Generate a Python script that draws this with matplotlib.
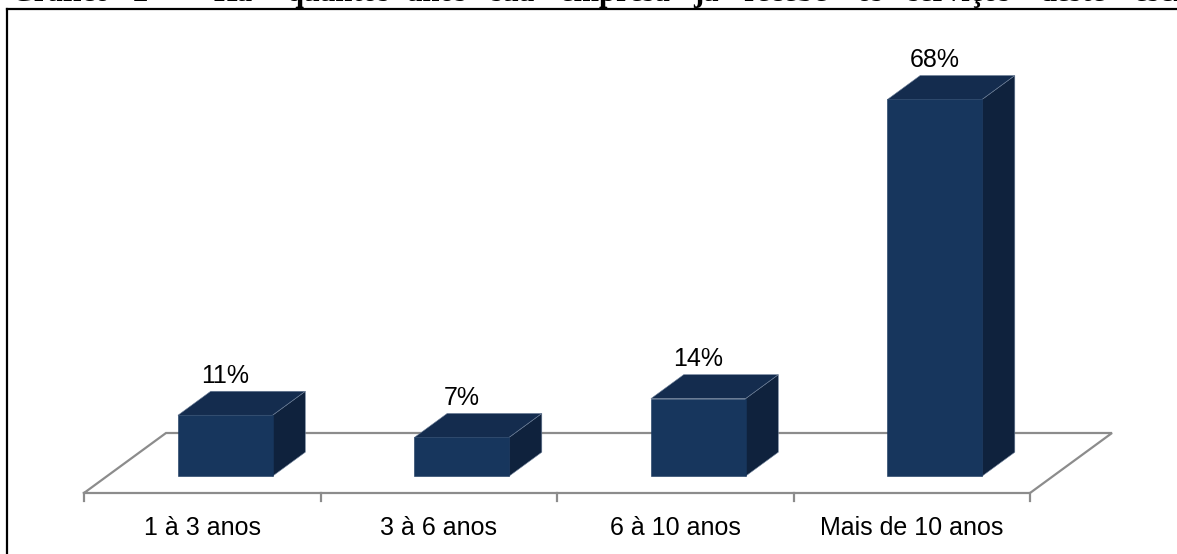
import matplotlib
matplotlib.use('Agg')
import matplotlib.pyplot as plt
from matplotlib.patches import Polygon
from matplotlib.lines import Line2D

categorias = ['1 à 3 anos', '3 à 6 anos', '6 à 10 anos', 'Mais de 10 anos']
valores = [11, 7, 14, 68]
rotulos = ['11%', '7%', '14%', '68%']

titulo = ['Gráfico', '2', '–', 'Há', 'quantos', 'anos', 'sua', 'empresa', 'já',
          'recebe', 'os', 'serviços', 'deste', 'escritório?']
# posição (px) de cada palavra do título justificado
titulo_x = [10, 133, 168, 213, 287, 407, 490, 560, 693, 743, 857, 907, 1040, 1134]

W, H = 1177, 554
fig = plt.figure(figsize=(W / 100, H / 100), dpi=100)
ax = fig.add_axes([0, 0, 1, 1])
ax.axis('off')

# escala: 1 categoria = 236.5 px, 1% = 5.54 px; origem no canto frontal esquerdo do piso
px_x, px_y = 236.5, 5.54
x0, y0 = 84, H - 493
ax.set_xlim(-x0 / px_x, (W - x0) / px_x)
ax.set_ylim(-y0 / px_y, (H - y0) / px_y)

# profundidade do piso (oblíquo)
Dx, Dy = 82 / px_x, 60 / px_y
f0, f1 = 0.28, 0.68   # frente e fundo das barras dentro do piso
larg = 0.40
n = len(categorias)

cinza = '#8c8c8c'
piso = [(0, 0), (n, 0), (n + Dx, Dy), (Dx, Dy), (0, 0)]
ax.plot([p[0] for p in piso], [p[1] for p in piso], color=cinza, lw=1.6,
        solid_joinstyle='miter', zorder=1)
for i in range(n + 1):
    ax.plot([i, i], [0, -1.5], color=cinza, lw=1.6, zorder=1)

frente, topo, lado = '#17365d', '#142c4e', '#0f223d'
borda = '#6f819a'
for i, v in enumerate(valores):
    xl = i + 0.5 - larg / 2 + f0 * Dx
    xr = xl + larg
    yb = f0 * Dy
    dx, dy = (f1 - f0) * Dx, (f1 - f0) * Dy
    face = [(xl, yb), (xr, yb), (xr, yb + v), (xl, yb + v)]
    cima = [(xl, yb + v), (xr, yb + v), (xr + dx, yb + v + dy), (xl + dx, yb + v + dy)]
    dir_ = [(xr, yb), (xr + dx, yb + dy), (xr + dx, yb + v + dy), (xr, yb + v)]
    ax.add_patch(Polygon(dir_, closed=True, fc=lado, ec=borda, lw=0.4, zorder=3))
    ax.add_patch(Polygon(cima, closed=True, fc=topo, ec=borda, lw=0.4, zorder=3))
    ax.add_patch(Polygon(face, closed=True, fc=frente, ec=frente, lw=0.4, zorder=4))
    ax.text(xl + larg / 2, yb + v + dy + 1.5, rotulos[i], ha='center', va='baseline',
            fontsize=18, family='Liberation Sans', color='black')
    ax.text(i + 0.5, -7.5, categorias[i], ha='center', va='baseline',
            fontsize=18, family='Liberation Sans', color='black')

# moldura
fig.add_artist(Line2D([6.5 / W, 1], [1 - 8.5 / H] * 2, transform=fig.transFigure,
                      color='black', lw=1.6))
fig.add_artist(Line2D([6.5 / W] * 2, [0, 1 - 8.5 / H], transform=fig.transFigure,
                      color='black', lw=1.6))

for palavra, xp in zip(titulo, titulo_x):
    fig.text(xp / W, 1 - 1.0 / H, palavra, ha='left', va='baseline', fontsize=22,
             family='Liberation Serif', fontweight='bold')

fig.savefig('out.png', dpi=100, facecolor='white')
plt.close(fig)
